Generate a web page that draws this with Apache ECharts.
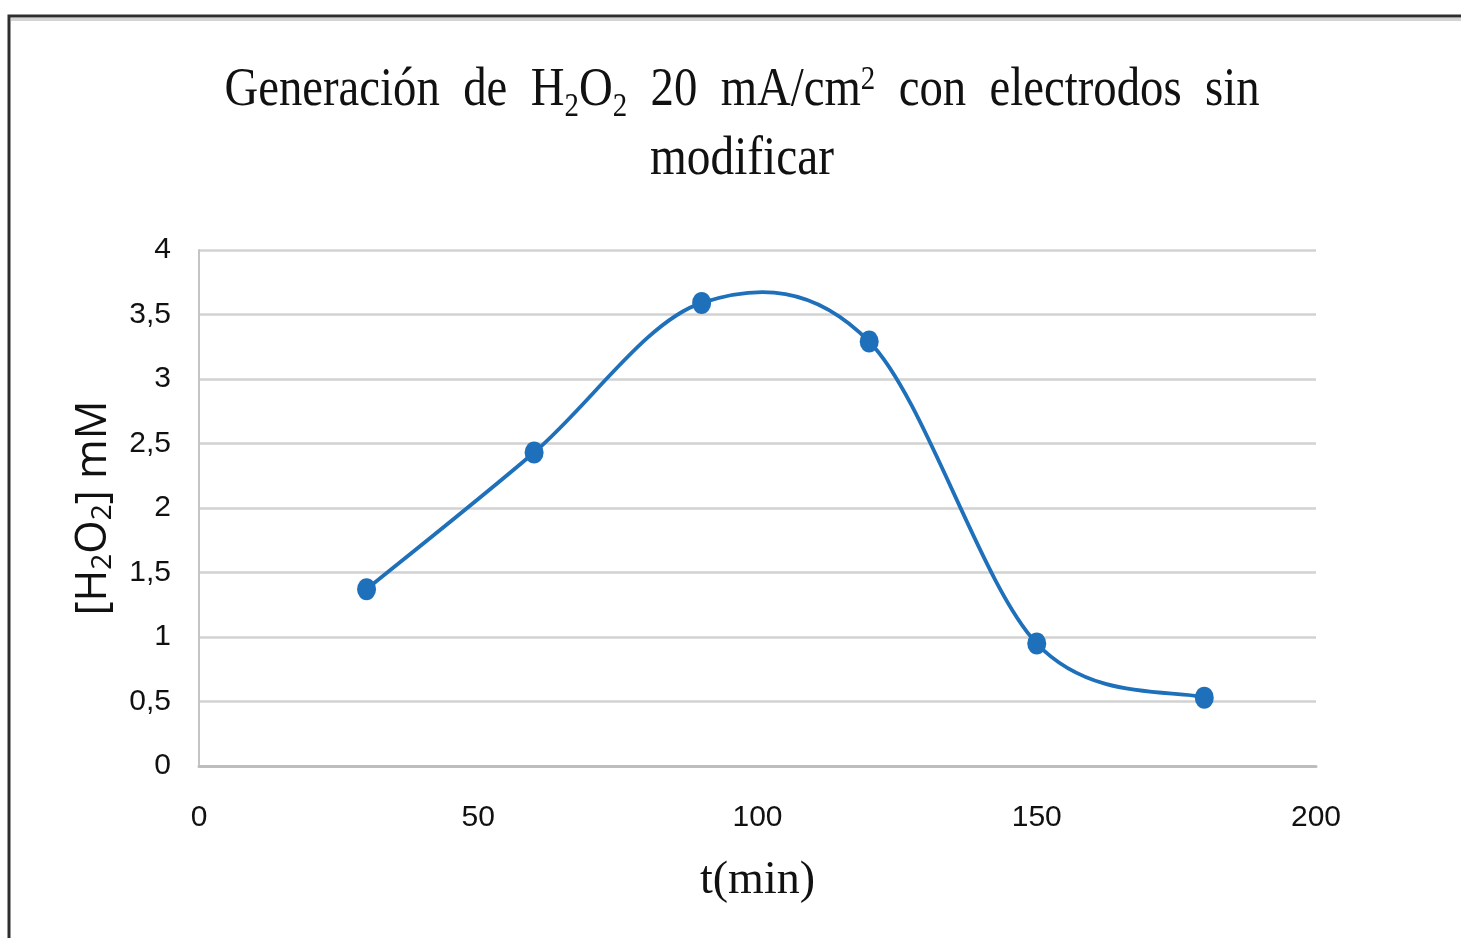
<!DOCTYPE html>
<html>
<head>
<meta charset="utf-8">
<script src="https://cdn.jsdelivr.net/npm/echarts@6/dist/echarts.min.js"></script>
<style>
  html, body { margin: 0; padding: 0; background: #fff; }
  #chart { width: 1461px; height: 938px; }
</style>
</head>
<body>
<div id="chart"></div>
<script>
// Time of sampling (min) and measured H2O2 concentration (mM)
const times = [30, 60, 90, 120, 150, 180];
const concentrations = [1.37, 2.43, 3.59, 3.29, 0.95, 0.53];
const xTicks = [0, 50, 100, 150, 200];
const yTicks = [0, 0.5, 1, 1.5, 2, 2.5, 3, 3.5, 4];

const points = times.map((t, i) => [t, concentrations[i]]);
const lineColor = '#1F70BA';

const chart = echarts.init(document.getElementById('chart'));

// Catmull-Rom style smoothing between consecutive points (screen space)
function renderSegment(params, api) {
  const i = params.dataIndex;
  if (i >= points.length - 1) return null;
  const p0 = api.coord(points[Math.max(i - 1, 0)]);
  const p1 = api.coord(points[i]);
  const p2 = api.coord(points[i + 1]);
  const p3 = api.coord(points[Math.min(i + 2, points.length - 1)]);
  const k = 1 / 6;
  return {
    type: 'bezierCurve',
    shape: {
      x1: p1[0], y1: p1[1],
      x2: p2[0], y2: p2[1],
      cpx1: p1[0] + (p2[0] - p0[0]) * k,
      cpy1: p1[1] + (p2[1] - p0[1]) * k,
      cpx2: p2[0] - (p3[0] - p1[0]) * k,
      cpy2: p2[1] - (p3[1] - p1[1]) * k
    },
    style: { stroke: lineColor, lineWidth: 3.8, fill: null, lineCap: 'round' }
  };
}

const serif = '"Liberation Serif", "Times New Roman", serif';
const sans = '"Liberation Sans", Arial, sans-serif';
const axisNameFont = '"Open Sans", "Liberation Sans", sans-serif';

chart.setOption({
  animation: false,
  backgroundColor: '#ffffff',
  grid: { left: 199, right: 145, top: 250, bottom: 172 },
  graphic: [
    {
      type: 'rect',
      shape: { x: 9, y: 16, width: 1600, height: 1000 },
      style: { fill: null, stroke: '#2e2e2e', lineWidth: 3 },
      silent: true
    },
    {
      type: 'line',
      shape: { x1: 11, y1: 19.5, x2: 1461, y2: 19.5 },
      style: { stroke: '#d4d4d4', lineWidth: 3 },
      silent: true
    },
    {
      type: 'text',
      x: 742, y: 91,
      scaleX: 0.85,
      style: {
        text: '{a|Generación  de  H}{s|2}{a|O}{s|2}{a|  20  mA/cm}{p|2}{a|  con  electrodos  sin}',
        textAlign: 'center',
        textVerticalAlign: 'middle',
        fill: '#111',
        rich: {
          a: { fontFamily: serif, fontSize: 55, lineHeight: 66, fill: '#111' },
          s: { fontFamily: serif, fontSize: 34, lineHeight: 26, verticalAlign: 'bottom', fill: '#111' },
          p: { fontFamily: serif, fontSize: 34, lineHeight: 30, padding: [5, 0, 0, 0], verticalAlign: 'top', fill: '#111' }
        }
      }
    },
    {
      type: 'text',
      x: 742, y: 160,
      scaleX: 0.86,
      style: {
        text: 'modificar',
        textAlign: 'center',
        textVerticalAlign: 'middle',
        fill: '#111',
        font: '55px ' + serif
      }
    }
  ],
  xAxis: {
    type: 'value',
    min: xTicks[0],
    max: xTicks[xTicks.length - 1],
    interval: xTicks[1] - xTicks[0],
    name: 't(min)',
    nameLocation: 'middle',
    nameGap: 92,
    nameTextStyle: { fontFamily: serif, fontSize: 46, color: '#111' },
    axisLine: { show: true, lineStyle: { color: '#bdbdbd', width: 3 } },
    axisTick: { show: false },
    splitLine: { show: false },
    axisLabel: { fontFamily: sans, fontSize: 30, color: '#111', margin: 37 }
  },
  yAxis: {
    type: 'value',
    min: yTicks[0],
    max: yTicks[yTicks.length - 1],
    interval: yTicks[1] - yTicks[0],
    name: '{a|[H}{s|2}{a|O}{s|2}{a|] mM}',
    nameLocation: 'middle',
    nameRotate: 90,
    nameGap: 82,
    nameTextStyle: {
      rich: {
        a: { fontFamily: axisNameFont, fontSize: 43, lineHeight: 46, color: '#111' },
        s: { fontFamily: axisNameFont, fontSize: 28, lineHeight: 24, verticalAlign: 'bottom', color: '#111' }
      }
    },
    axisLine: { show: true, lineStyle: { color: '#c4c4c4', width: 2 } },
    axisTick: { show: false },
    splitLine: { show: true, lineStyle: { color: '#d2d2d2', width: 2.5 } },
    axisLabel: {
      fontFamily: sans, fontSize: 30, color: '#111', margin: 28,
      formatter: v => String(v).replace('.', ',')
    }
  },
  series: [
    {
      type: 'custom',
      renderItem: renderSegment,
      data: points,
      z: 3,
      encode: { x: 0, y: 1 }
    },
    {
      type: 'scatter',
      data: points,
      symbol: 'circle',
      symbolSize: [19, 22],
      itemStyle: { color: lineColor, opacity: 1 },
      z: 4
    }
  ]
});
</script>
</body>
</html>
